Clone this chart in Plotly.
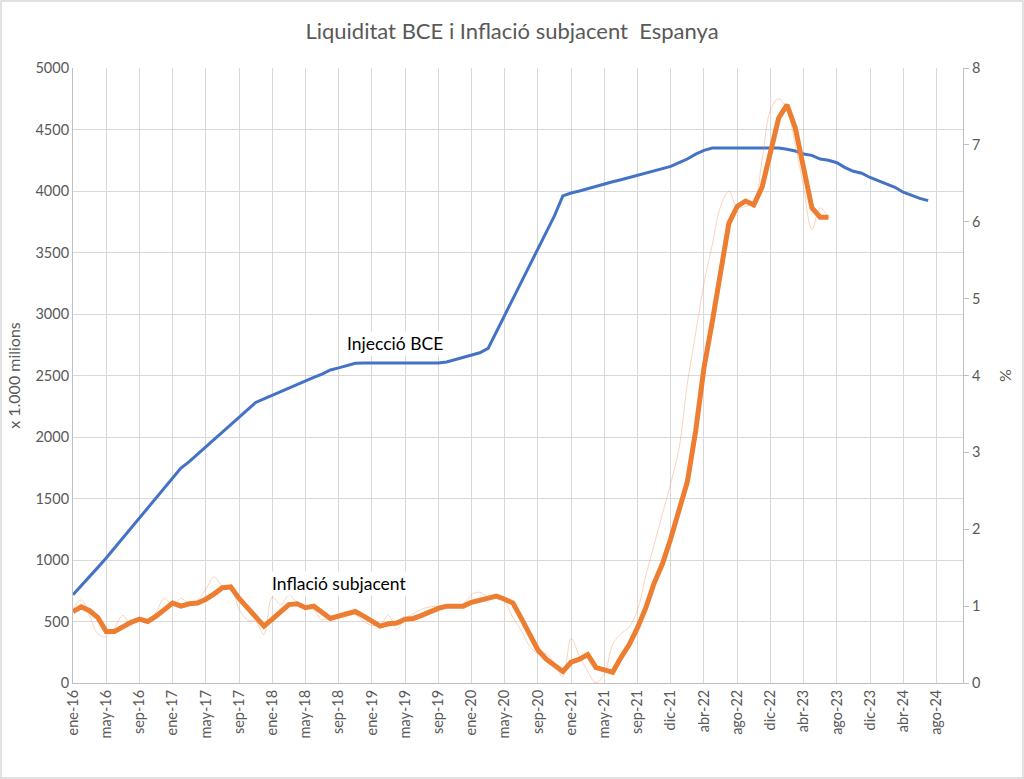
import plotly.graph_objects as go

# etiquetes de l'eix X (una cada 4 categories)
TICK_LABELS = [
    "ene-16", "may-16", "sep-16", "ene-17", "may-17", "sep-17", "ene-18",
    "may-18", "sep-18", "ene-19", "may-19", "sep-19", "ene-20", "may-20",
    "sep-20", "ene-21", "may-21", "sep-21", "dic-21", "abr-22", "ago-22",
    "dic-22", "abr-23", "ago-23", "dic-23", "abr-24", "ago-24",
]

# injeccio BCE, x 1.000 milions (eix esquerre)
bce = [
    718, 790, 865, 940, 1016, 1097, 1178, 1260, 1340, 1420, 1504, 1585, 1668,
    1748, 1800, 1860, 1920, 1980, 2040, 2100, 2160, 2222, 2281, 2310, 2340,
    2368, 2398, 2426, 2455, 2484, 2512, 2545, 2562, 2580, 2600, 2602, 2602,
    2602, 2602, 2602, 2602, 2602, 2602, 2602, 2602, 2610, 2630, 2650, 2665,
    2685, 2720, 2850, 2990, 3125, 3260, 3395, 3530, 3665, 3800, 3960, 3984,
    4000, 4020, 4040, 4058, 4075, 4092, 4110, 4127, 4145, 4162, 4180, 4200,
    4230, 4260, 4300, 4330, 4350, 4350, 4350, 4350, 4350, 4350, 4350, 4350,
    4350, 4340, 4325, 4300, 4290, 4260, 4250, 4230, 4190, 4160, 4145, 4110,
    4085, 4060, 4030, 3990, 3965, 3940, 3922,
]

# inflacio subjacent, % (eix dret) - serie gruixuda
infl = [
    0.93, 0.99, 0.94, 0.85, 0.67, 0.67, 0.73, 0.79, 0.83, 0.80, 0.87, 0.96,
    1.04, 1.00, 1.03, 1.04, 1.09, 1.16, 1.24, 1.25, 1.10, 0.98, 0.85, 0.74,
    0.83, 0.93, 1.02, 1.03, 0.98, 1.00, 0.92, 0.84, 0.87, 0.90, 0.93, 0.87,
    0.80, 0.74, 0.77, 0.78, 0.83, 0.84, 0.88, 0.93, 0.97, 1.00, 1.00, 1.00,
    1.05, 1.08, 1.11, 1.13, 1.09, 1.04, 0.84, 0.62, 0.43, 0.31, 0.22, 0.15,
    0.27, 0.31, 0.37, 0.20, 0.17, 0.14, 0.33, 0.50, 0.72, 0.98, 1.30, 1.55,
    1.88, 2.25, 2.62, 3.28, 4.10, 4.70, 5.35, 5.98, 6.20, 6.27, 6.22, 6.45,
    6.90, 7.35, 7.52, 7.22, 6.70, 6.18, 6.06, 6.06,
]

# inflacio subjacent, serie fina suavitzada
infl_raw = [
    0.97, 1.08, 0.87, 0.64, 0.60, 0.72, 0.88, 0.76, 0.84, 0.81, 0.92, 1.10,
    1.02, 1.10, 1.04, 1.08, 1.22, 1.38, 1.26, 1.25, 0.96, 0.82, 0.80, 0.63,
    1.12, 1.02, 1.14, 1.05, 0.98, 0.95, 0.82, 0.86, 0.90, 0.93, 0.89, 0.80,
    0.75, 0.76, 0.88, 0.70, 0.84, 0.90, 0.96, 0.99, 1.00, 1.00, 1.02, 1.02,
    1.15, 1.18, 1.12, 1.11, 1.05, 0.85, 0.68, 0.48, 0.38, 0.38, 0.25, 0.08,
    0.58, 0.35, 0.15, 0.00, 0.12, 0.50, 0.64, 0.73, 0.95, 1.40, 1.80, 2.20,
    2.60, 3.05, 3.90, 4.55, 5.20, 5.70, 6.20, 6.40, 6.18, 6.20, 6.25, 6.80,
    7.45, 7.60, 7.45, 7.00, 6.45, 5.90, 6.18, 6.05,
]

FONT = "Lato"
GREY = "#595959"
GRID = "#D9D9D9"
W, H = 1024, 779
L, R, T, B = 73, 61, 68, 96

fig = go.Figure()
fig.add_trace(go.Scatter(
    x=list(range(len(bce))), y=bce, mode="lines", name="Injecció BCE",
    line=dict(color="#4472C4", width=3),
))
fig.add_trace(go.Scatter(
    x=list(range(len(infl_raw))), y=infl_raw, mode="lines", yaxis="y2",
    name="Inflació (mensual)", line=dict(color="rgba(244,160,110,0.45)", width=1, shape="spline"),
))
fig.add_trace(go.Scatter(
    x=list(range(len(infl))), y=infl, mode="lines", yaxis="y2",
    name="Inflació subjacent", line=dict(color="#ED7D31", width=5),
))

fig.update_layout(
    width=W, height=H,
    margin=dict(l=L, r=R, t=T, b=B),
    paper_bgcolor="white", plot_bgcolor="white",
    showlegend=False,
    font=dict(family=FONT, color=GREY, size=14),
    title=dict(text="Liquiditat BCE i Inflació subjacent  Espanya", x=0.5, xanchor="center",
               y=1 - 31 / H, yanchor="middle", font=dict(size=22, color=GREY, family=FONT)),
    xaxis=dict(
        range=[0, 107.2], tickmode="array",
        tickvals=list(range(0, 4 * len(TICK_LABELS), 4)), ticktext=TICK_LABELS,
        tickangle=-90, showgrid=True, gridcolor=GRID, gridwidth=1,
        showline=True, linecolor="#BFBFBF", linewidth=1, zeroline=False,
        ticks="", tickfont=dict(size=14.5, color=GREY),
    ),
    yaxis=dict(
        range=[0, 5000], dtick=500, showgrid=True, gridcolor=GRID, gridwidth=1,
        showline=True, linecolor="#BFBFBF", zeroline=False, ticks="",
        title=dict(text="x 1.000 milions", standoff=10, font=dict(size=16, color=GREY)),
        tickfont=dict(size=14.5, color=GREY),
    ),
    yaxis2=dict(
        range=[0, 8], dtick=1, overlaying="y", side="right", showgrid=False,
        showline=True, linecolor="#BFBFBF", zeroline=False,
        ticks="outside", ticklen=5, tickcolor="#BFBFBF",
        title=dict(text="%", standoff=20, font=dict(size=16, color=GREY)),
        tickfont=dict(size=14.5, color=GREY),
    ),
)

# etiquetes de les series
fig.add_annotation(x=38.8, y=2760, text="Injecció BCE", showarrow=False,
                   bgcolor="white", font=dict(size=17.5, color="#000000", family=FONT))
fig.add_annotation(x=32, y=810, text="Inflació subjacent", showarrow=False,
                   bgcolor="white", font=dict(size=17.5, color="#000000", family=FONT))

# marc del grafic
pw, ph = W - L - R, H - T - B
fig.add_shape(type="rect", xref="paper", yref="paper",
              x0=-(L - 1) / pw, x1=1 + (R - 1) / pw, y0=-(B - 1) / ph, y1=1 + (T - 1) / ph,
              line=dict(color=GRID, width=1.5), layer="below")

# sense marge del body perque el grafic ocupi tota la finestra
fig.write_html("out.html", config={"displayModeBar": False},
               post_script="document.body.style.margin='0';")
